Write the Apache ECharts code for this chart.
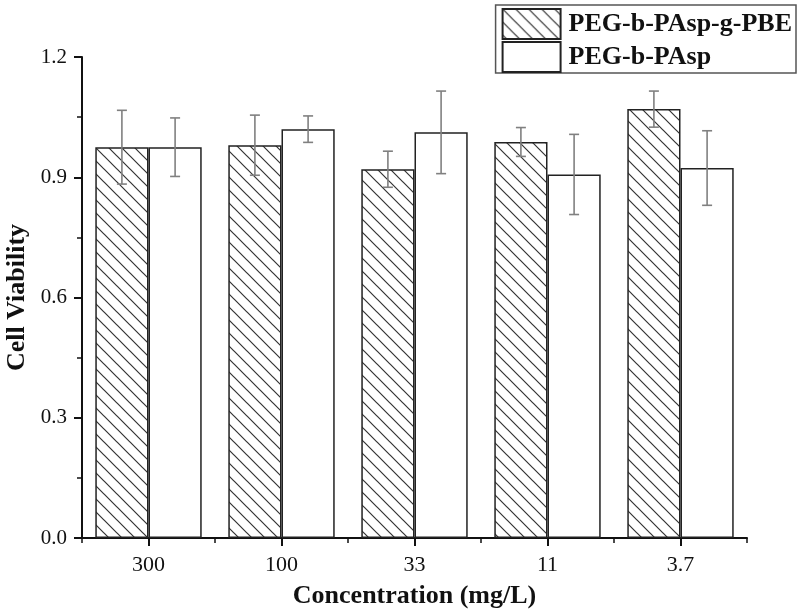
<!DOCTYPE html>
<html>
<head>
<meta charset="utf-8">
<script src="https://cdn.jsdelivr.net/npm/echarts@6/dist/echarts.min.js"></script>
<style>
  html, body { margin: 0; padding: 0; background: #fff; }
  #chart { width: 800px; height: 614px; }
</style>
</head>
<body>
<div id="chart"></div>
<script>
// data
const categories = ["300", "100", "33", "11", "3.7"];
const seriesNames = ["PEG-b-PAsp-g-PBE", "PEG-b-PAsp"];
const pbeValues = [0.975, 0.98, 0.92, 0.988, 1.07];
const pbeErrors = [0.092, 0.075, 0.045, 0.036, 0.045];
const paspValues = [0.975, 1.02, 1.012, 0.907, 0.923];
const paspErrors = [0.073, 0.033, 0.103, 0.1, 0.093];

// hatch pattern (lines from top-left to bottom-right)
function makeHatch() {
  const s = 13;
  const c = document.createElement("canvas");
  c.width = s;
  c.height = s;
  const ctx = c.getContext("2d");
  ctx.fillStyle = "#fff";
  ctx.fillRect(0, 0, s, s);
  ctx.strokeStyle = "#333";
  ctx.lineWidth = 1.2;
  ctx.beginPath();
  ctx.moveTo(-2, -2); ctx.lineTo(s + 2, s + 2);
  ctx.moveTo(-2, s - 2); ctx.lineTo(2, s + 2);
  ctx.moveTo(s - 2, -2); ctx.lineTo(s + 2, 2);
  ctx.stroke();
  return c;
}

const CATGAP = 0.2;
const serif = "'Liberation Serif', 'DejaVu Serif', serif";
const nameStyle = { fontFamily: serif, fontWeight: "bold", fontSize: 26, color: "#111" };

function errorSeries(values, errors, side) {
  return {
    type: "custom",
    z: 10,
    silent: true,
    clip: false,
    data: values.map((v, i) => [i, v - errors[i], v + errors[i]]),
    renderItem: (params, api) => {
      const idx = api.value(0);
      const band = api.size([1, 0])[0];
      const barW = (band * (1 - CATGAP)) / 2;
      const lo = api.coord([idx, api.value(1)]);
      const hi = api.coord([idx, api.value(2)]);
      const x = lo[0] + side * barW / 2;
      const cap = 5;
      const style = { stroke: "#808080", lineWidth: 1.6 };
      return {
        type: "group",
        children: [
          { type: "line", shape: { x1: x, y1: hi[1], x2: x, y2: lo[1] }, style },
          { type: "line", shape: { x1: x - cap, y1: hi[1], x2: x + cap, y2: hi[1] }, style },
          { type: "line", shape: { x1: x - cap, y1: lo[1], x2: x + cap, y2: lo[1] }, style },
        ],
      };
    },
  };
}

const chart = echarts.init(document.getElementById("chart"));
const option = {
  animation: false,
  backgroundColor: "#fff",
  textStyle: { fontFamily: serif, color: "#111" },
  grid: { left: 82, right: 53, top: 57, bottom: 76, containLabel: false, outerBoundsMode: "none" },
  legend: {
    orient: "vertical",
    right: 4,
    top: 5,
    data: seriesNames,
    icon: "rect",
    itemWidth: 58,
    itemHeight: 30,
    itemGap: 1,
    padding: [3, 4, 0, 6],
    borderColor: "#555",
    borderWidth: 1.5,
    borderRadius: 0,
    backgroundColor: "#fff",
    textStyle: {
      fontFamily: serif,
      fontWeight: "bold",
      fontSize: 26,
      lineHeight: 28,
      color: "#111",
      padding: [0, 0, 0, 3],
    },
  },
  xAxis: [
    {
      type: "category",
      data: categories,
      name: "Concentration (mg/L)",
      nameLocation: "middle",
      nameGap: 45,
      nameTextStyle: nameStyle,
      axisLine: { show: true, lineStyle: { color: "#111", width: 2 } },
      axisTick: { show: true, alignWithLabel: true, length: 8, lineStyle: { color: "#111", width: 2 } },
      axisLabel: { fontFamily: serif, fontSize: 22, color: "#111", margin: 16 },
    },
    {
      type: "category",
      data: categories,
      position: "bottom",
      axisLine: { show: false },
      axisTick: { show: true, length: 5, lineStyle: { color: "#111", width: 1.5 } },
      axisLabel: { show: false },
    },
  ],
  yAxis: {
    type: "value",
    min: 0,
    max: 1.2,
    interval: 0.3,
    name: "Cell Viability",
    nameLocation: "middle",
    nameGap: 52,
    nameTextStyle: nameStyle,
    axisLine: { show: true, lineStyle: { color: "#111", width: 2 } },
    axisTick: { show: true, length: 8, lineStyle: { color: "#111", width: 2 } },
    minorTick: { show: true, splitNumber: 2, length: 5, lineStyle: { color: "#111", width: 1.5 } },
    splitLine: { show: false },
    axisLabel: {
      fontFamily: serif,
      fontSize: 21,
      color: "#111",
      margin: 15,
      formatter: (v) => v.toFixed(1),
    },
  },
  series: [
    {
      name: seriesNames[0],
      type: "bar",
      data: pbeValues,
      barGap: "0%",
      barCategoryGap: "20%",
      itemStyle: {
        color: { image: makeHatch(), repeat: "repeat" },
        borderColor: "#222",
        borderWidth: 1.5,
      },
    },
    {
      name: seriesNames[1],
      type: "bar",
      data: paspValues,
      itemStyle: { color: "#fff", borderColor: "#222", borderWidth: 1.5 },
    },
    errorSeries(pbeValues, pbeErrors, -1),
    errorSeries(paspValues, paspErrors, 1),
  ],
};
chart.setOption(option);
</script>
</body>
</html>
